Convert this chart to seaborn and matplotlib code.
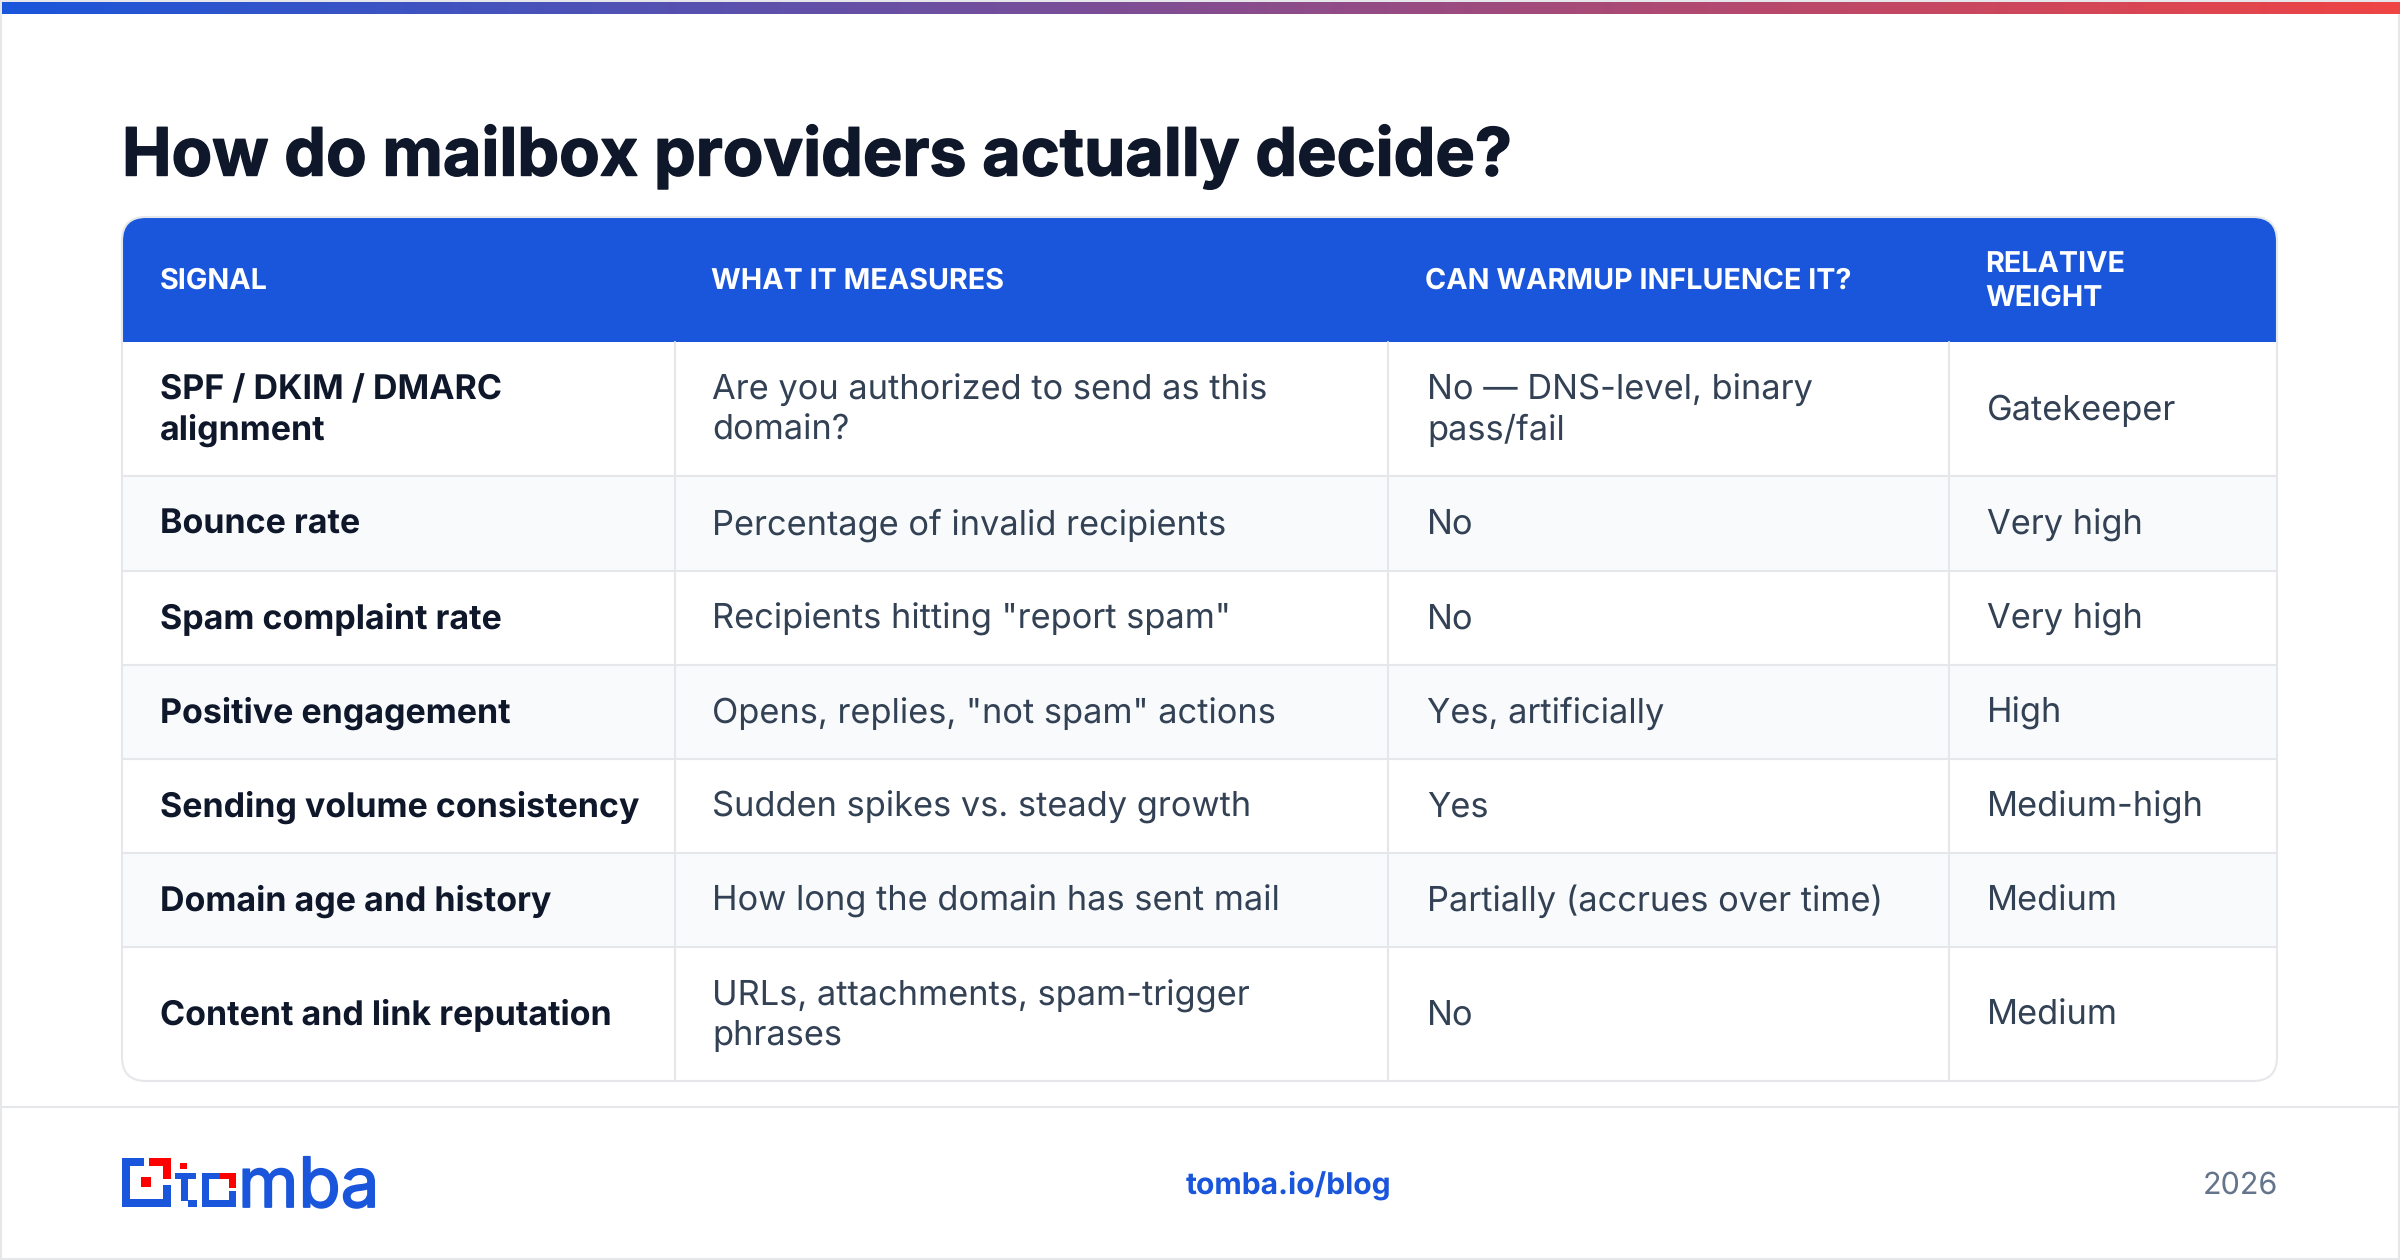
import numpy as np
import seaborn as sns
import matplotlib
matplotlib.use('Agg')
import matplotlib.pyplot as plt
import matplotlib.patheffects as pe
from matplotlib.colors import ListedColormap, LinearSegmentedColormap
from matplotlib.patches import FancyBboxPatch, Rectangle

# table content
TITLE = 'How do mailbox providers actually decide?'
HEADERS = ['SIGNAL', 'WHAT IT MEASURES', 'CAN WARMUP INFLUENCE IT?', 'RELATIVE\nWEIGHT']
SIGNALS = ['SPF / DKIM / DMARC\nalignment', 'Bounce rate', 'Spam complaint rate', 'Positive engagement',
           'Sending volume consistency', 'Domain age and history', 'Content and link reputation']
MEASURES = ['Are you authorized to send as this\ndomain?', 'Percentage of invalid recipients',
            'Recipients hitting "report spam"', 'Opens, replies, "not spam" actions',
            'Sudden spikes vs. steady growth', 'How long the domain has sent mail',
            'URLs, attachments, spam-trigger\nphrases']
WARMUP = ['No \u2014 DNS-level, binary\npass/fail', 'No', 'No', 'Yes, artificially', 'Yes',
          'Partially (accrues over time)', 'No']
WEIGHT = ['Gatekeeper', 'Very high', 'Very high', 'High', 'Medium-high', 'Medium', 'Medium']
ZEBRA = [0, 1, 0, 1, 0, 1, 0]

# layout in image pixels
W, H = 2400, 1260
LEFT, RIGHT, TOP, HEAD_BOTTOM, BOTTOM = 122, 2277, 217, 342, 1081
ROW_EDGES = [342, 476, 571, 665, 759, 853, 947, 1081]
COL_LINES = [675, 1388, 1949]
HEAD_X = [160, 711, 1425, 1985]
BODY_X = [160, 712, 1427, 1987]

BLUE = '#1a56db'
RED = '#ff0000'
LINE = '#e5e7eb'
PX = 0.72  # px to pt at dpi 100

sns.set_theme(style='white')
plt.rcParams['font.family'] = ['Inter', 'DejaVu Sans']
plt.rcParams['text.hinting'] = 'no_hinting'

fig = plt.figure(figsize=(W / 100, H / 100), dpi=100, facecolor='white')

# zebra rows are a heatmap, one matrix row per pixel so heights can differ
ax_body = fig.add_axes([LEFT / W, 1 - BOTTOM / H, (RIGHT - LEFT) / W, (BOTTOM - HEAD_BOTTOM) / H])
shade = np.repeat(ZEBRA, np.diff(ROW_EDGES)).reshape(-1, 1)
sns.heatmap(shade, ax=ax_body, cbar=False, xticklabels=False, yticklabels=False,
            cmap=ListedColormap(['#ffffff', '#f8fafc']), vmin=0, vmax=1)

ax = fig.add_axes([0, 0, 1, 1], facecolor='none')
ax.set_xlim(0, W)
ax.set_ylim(H, 0)
ax.axis('off')

# page frame and top gradient
ax.add_patch(Rectangle((1, 1), W - 2, H - 2, fill=False, ec=LINE, lw=1.5))
grad = LinearSegmentedColormap.from_list('bar', [BLUE, '#ef4444'])
ax.imshow(np.linspace(0, 1, 512).reshape(1, -1), cmap=grad, extent=(2, W, 14, 2), aspect='auto', zorder=2)
ax.set_xlim(0, W)
ax.set_ylim(H, 0)

ax.text(122, 175.5, TITLE, fontsize=66.3 * PX, fontweight='bold', color='#0f172a', va='baseline',
        path_effects=[pe.withStroke(linewidth=1.0, foreground='#0f172a')])

# header band, rounded on top only
frame = FancyBboxPatch((LEFT, TOP), RIGHT - LEFT, BOTTOM - TOP, boxstyle='round,pad=0,rounding_size=24',
                       fc='none', ec=LINE, lw=1.5, zorder=5)
ax.add_patch(frame)
band = Rectangle((LEFT, TOP), RIGHT - LEFT, HEAD_BOTTOM - TOP, fc=BLUE, ec='none', zorder=3)
ax.add_patch(band)
band.set_clip_path(frame)

# grid lines
for y in ROW_EDGES[1:-1]:
    ax.plot([LEFT, RIGHT], [y, y], color=LINE, lw=1.5, zorder=4)
for x in COL_LINES:
    ax.plot([x, x], [HEAD_BOTTOM, BOTTOM], color=LINE, lw=1.5, zorder=4)

for x, label in zip(HEAD_X, HEADERS):
    ax.text(x, (TOP + HEAD_BOTTOM) / 2 + 2, label, fontsize=28.7 * PX, fontweight='bold', color='white',
            va='center', ha='left', linespacing=1.34, zorder=6)

columns = [(SIGNALS, 'bold', '#0f172a', 34), (MEASURES, 'normal', '#334155', 34.4),
           (WARMUP, 'normal', '#334155', 34.4), (WEIGHT, 'normal', '#334155', 34.4)]
for x, (values, weight, color, size) in zip(BODY_X, columns):
    for i, value in enumerate(values):
        mid = (ROW_EDGES[i] + ROW_EDGES[i + 1]) / 2
        ax.text(x, mid + 1.5, value, fontsize=size * PX, fontweight=weight, color=color,
                va='center', ha='left', linespacing=1.28, zorder=6)

# logo
logo_blue = [(122, 1158, 22, 8), (122, 1158, 8, 49), (122, 1199, 49, 8), (163, 1185, 8, 22),
             (181, 1173, 7, 28), (175, 1173, 21, 6), (188, 1200, 9, 7),
             (202, 1173, 7, 34), (202, 1173, 18, 6), (202, 1200, 34, 7), (229, 1191, 7, 16)]
logo_red = [(149, 1158, 22, 8), (163, 1158, 8, 21), (141, 1177, 10, 10), (180, 1163, 7, 6),
            (220, 1173, 16, 6), (229, 1173, 7, 15)]
for x, y, w, h in logo_blue:
    ax.add_patch(Rectangle((x, y), w, h, fc=BLUE, ec='none', zorder=3))
for x, y, w, h in logo_red:
    ax.add_patch(Rectangle((x, y), w, h, fc=RED, ec='none', zorder=4))
ax.text(238, 1207, 'mba', fontsize=69 * PX, color=BLUE, va='baseline', ha='left',
        path_effects=[pe.withStroke(linewidth=1.3, foreground=BLUE)])

# footer
ax.plot([0, W], [1107, 1107], color=LINE, lw=1.5)
ax.text(1289, 1185, 'tomba.io/blog', fontsize=30 * PX, fontweight='bold', color=BLUE, va='center', ha='center')
ax.text(RIGHT + 1, 1186, '2026', fontsize=30.5 * PX, color='#64748b', va='center', ha='right')

fig.savefig('out.png', dpi=100)
